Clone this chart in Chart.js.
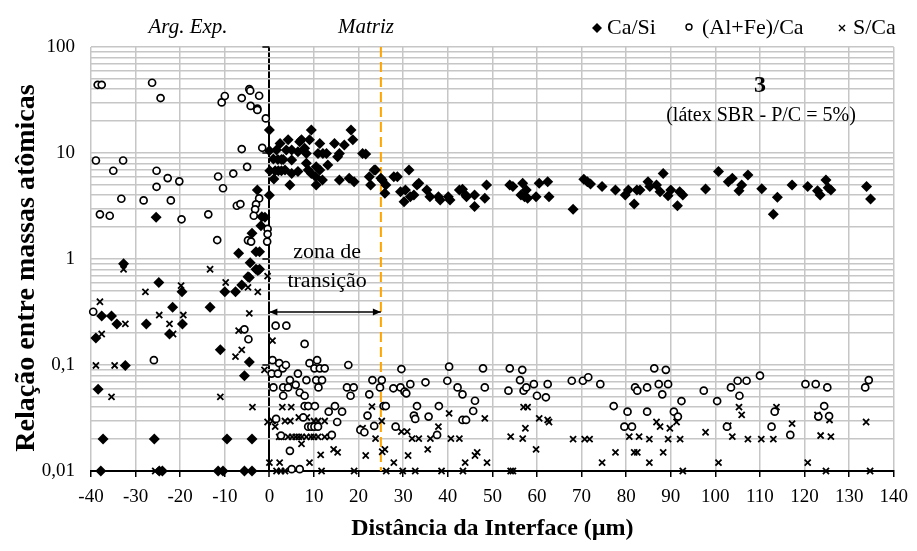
<!DOCTYPE html>
<html>
<head>
<meta charset="utf-8">
<script src="https://cdn.jsdelivr.net/npm/chart.js@4.4.1/dist/chart.umd.min.js"></script>
<style>
  html, body { margin: 0; padding: 0; background: #fff; }
  #wrap { width: 917px; height: 551px; }
</style>
</head>
<body>
<div id="wrap"><canvas id="chart" width="917" height="551"></canvas></div>
<script>
// Ca/Si (filled diamonds)
const caSiX = [-38.9,-38.4,-37.6,-37.3,-37.8,-35.4,-34.2,-32.7,-32.3,-27.6,-25.4,-25.8,-24.8,-24.7,-24.0,-22.4,-21.7,-19.6,-19.5,-13.3,-11.5,-11.0,-10.4,-10.0,-9.5,-7.6,-6.9,-6.2,-5.6,-5.6,-4.8,-4.5,-4.5,-4.3,-3.9,-3.9,-3.9,-3.0,-3.0,-2.7,-2.6,-2.2,-2.2,-1.9,-1.7,-1.0,0.0,0.0,0.0,
  0.1,1.3,0.9,1.0,1.6,2.4,1.9,2.7,3.1,2.0,2.7,3.5,4.2,3.8,5.0,5.0,5.0,4.6,6.4,6.4,6.8,7.2,7.9,8.3,8.3,8.7,9.0,9.4,9.4,10.4,10.5,10.9,11.3,12.0,12.8,10.5,11.3,11.9,13.1,14.6,15.3,15.7,15.7,16.8,17.9,19.0,18.3,18.7,20.9,21.6,22.4,22.7,23.5,23.8,25.0,25.3,26.1,25.9,27.9,28.7,29.4,30.5,30.2,31.3,31.6,32.4,33.1,33.5,35.3,36.0,37.9,38.3,40.1,40.5,42.6,43.3,44.0,44.2,46.0,46.0,48.7,48.3,
  53.9,54.6,56.8,57.6,56.4,57.2,57.9,59.8,60.5,62.4,62.7,68.1,70.5,71.3,72.0,74.6,77.6,79.8,80.5,81.8,82.4,83.1,84.9,85.3,86.8,87.6,88.3,89.4,90.0,91.5,92.0,92.7,97.8,100.7,102.9,103.8,105.3,105.9,107.3,110.4,113.0,113.9,117.2,120.7,122.9,123.5,124.8,125.3,125.9,133.9,134.8];
const caSiY = [0.18,0.059,0.29,0.02,0.01,0.29,0.244,0.9,0.099,0.244,2.47,0.02,0.6,0.01,0.01,0.196,0.35,0.49,0.244,0.35,0.01,0.139,0.01,0.49,0.02,0.49,1.13,0.57,0.079,0.01,0.68,0.67,0.107,0.92,1.75,0.02,0.01,1.17,0.8,4.48,0.78,1.17,0.8,2.06,2.51,2.47,4.0,16.5,10.5,
  6.8,6.8,8.8,5.7,10.7,12.3,8.7,8.7,8.7,6.8,6.8,6.9,13.3,10.7,10.7,8.6,6.4,5.0,6.7,10.3,12.8,13.3,11.1,9.9,8.0,6.9,13.3,16.5,6.4,5.98,5.0,9.9,12.3,9.9,9.9,7.43,6.9,5.56,7.7,12.3,9.2,9.9,5.56,11.9,5.77,5.36,16.5,13.3,9.9,9.8,5.98,5.0,6.9,6.9,5.77,5.56,5.0,4.17,5.98,5.98,4.32,4.48,3.47,6.9,3.87,4.02,5.0,5.18,4.48,3.87,3.87,3.6,3.87,3.6,4.48,4.54,4.02,3.87,4.02,3.12,5.0,3.74,
  5.0,4.84,5.18,4.48,4.02,3.87,3.74,3.87,5.18,5.36,3.87,2.94,5.65,5.36,5.1,4.84,4.48,4.02,4.48,3.3,4.48,4.48,5.36,4.84,5.0,4.32,6.4,3.95,4.48,3.18,4.32,4.02,4.58,6.7,5.36,5.77,4.4,5.0,6.2,4.6,2.64,3.82,5.0,4.84,4.4,4.02,5.56,4.7,4.48,4.84,3.68];

// (Al+Fe)/Ca (open circles)
const alFeCaX = [-38.5,-37.6,-26.3,-24.4,-10.7,-10.0,-6.2,-4.5,-4.3,-2.3,-4.2,-2.7,-2.7,-0.8,-6.2,-1.6,-38.9,-32.8,-35.0,-25.3,-22.8,-20.2,-25.3,-11.5,-10.4,-8.1,-5.0,-33.2,-28.2,-22.1,-38.0,-35.8,-19.7,-13.7,-7.3,-6.5,-2.3,-3.0,-3.2,-3.5,-0.4,-0.4,-0.5,-11.7,-4.8,-4.1,-39.5,-5.6,-4.7,-25.9,
  1.4,3.8,7.9,0.7,2.2,3.0,3.7,0.5,1.9,4.6,6.4,0.9,3.1,4.2,3.1,5.9,6.8,7.9,8.3,9.0,10.7,10.1,11.3,12.4,10.5,11.8,11.0,7.9,8.7,10.2,1.5,7.6,8.7,9.4,10.1,10.9,2.6,4.6,5.0,6.8,13.3,14.7,14.0,15.2,16.3,17.7,17.4,18.9,18.2,20.4,21.3,22.0,22.4,23.1,23.5,24.8,25.2,25.6,26.1,27.8,28.3,29.4,30.3,30.7,29.6,31.6,32.4,32.7,33.1,35.0,35.7,37.6,38.0,39.9,40.3,42.2,43.3,43.3,44.1,45.7,46.1,47.9,48.3,
  53.6,53.9,56.7,56.2,57.0,57.6,59.3,60.0,62.0,62.4,67.8,70.3,71.5,74.2,77.2,79.6,80.3,81.3,82.0,82.5,84.7,84.7,86.3,88.9,87.3,88.1,89.4,90.7,91.6,92.4,97.4,100.4,102.6,103.5,105.0,107.0,105.4,110.0,112.6,113.3,116.8,120.2,122.5,125.1,124.4,123.1,125.5,133.6,134.4];
const alFeCaY = [44,44,46,33,30,34.5,33,40,38.7,34.7,27.8,26.2,25.5,21.2,10.9,11.2,8.5,8.5,6.8,6.8,5.8,5.4,4.8,6.0,4.65,6.4,7.4,3.7,3.57,3.57,2.64,2.56,2.37,2.64,3.18,3.3,3.73,3.28,2.94,2.56,1.92,1.72,1.46,1.51,1.5,1.46,0.318,0.217,0.175,0.111,
  0.235,0.235,0.158,0.111,0.104,0.093,0.1,0.083,0.083,0.072,0.083,0.0615,0.0615,0.0615,0.0513,0.065,0.055,0.0513,0.072,0.104,0.111,0.093,0.093,0.093,0.072,0.072,0.0615,0.041,0.041,0.041,0.031,0.032,0.0262,0.0262,0.0262,0.0262,0.0216,0.0155,0.0104,0.0104,0.0363,0.041,0.0219,0.029,0.0363,0.1,0.0615,0.0615,0.0513,0.0244,0.0232,0.0333,0.0529,0.072,0.0266,0.0615,0.072,0.041,0.041,0.0603,0.0262,0.0615,0.056,0.054,0.0916,0.066,0.0333,0.031,0.041,0.0687,0.0326,0.0219,0.041,0.071,0.0964,0.0615,0.0529,0.0303,0.0303,0.0368,0.046,0.093,0.0615,
  0.0573,0.093,0.09,0.072,0.0573,0.0615,0.066,0.0513,0.0496,0.066,0.071,0.071,0.0766,0.066,0.041,0.0262,0.0363,0.0262,0.0615,0.0573,0.0615,0.0363,0.093,0.09,0.066,0.0529,0.066,0.0363,0.0326,0.0457,0.0573,0.0457,0.0262,0.0615,0.071,0.071,0.0513,0.0793,0.0262,0.0363,0.0219,0.066,0.066,0.0615,0.041,0.0326,0.033,0.0615,0.072];

// S/Ca (crosses)
const sCaX = [-32.7,-13.3,-0.4,-27.8,-19.8,-9.8,-4.8,-2.6,-38.0,-24.7,-19.3,-4.5,-32.3,-22.4,-37.6,-21.6,-6.9,0.7,-6.2,-7.6,-38.9,-34.7,-1.1,-35.4,-11.0,-3.8,-0.4,0.0,-25.6,
  2.9,4.9,6.6,8.4,0.7,1.3,3.5,4.7,2.2,2.7,4.2,5.1,5.9,6.6,7.3,8.3,9.3,7.2,10.0,10.9,12.4,10.0,10.9,12.4,13.5,14.4,15.3,11.5,9.0,2.3,1.6,2.6,3.5,11.7,19.0,26.2,29.9,32.7,38.6,43.4,21.6,20.9,23.0,23.8,25.2,25.3,25.9,27.9,29.6,30.9,31.1,32.0,33.5,32.5,35.5,36.1,37.9,40.3,40.7,42.6,43.9,46.1,46.6,48.3,48.8,
  54.1,54.1,54.6,56.8,57.0,57.9,57.4,59.8,60.5,62.4,62.7,68.1,70.7,71.8,74.6,77.6,80.7,82.9,81.8,82.5,85.2,85.2,86.8,87.6,88.3,89.4,89.8,91.3,92.1,92.7,97.8,100.7,102.9,103.8,105.3,105.9,107.3,110.3,113.0,113.7,117.2,120.7,122.9,123.6,125.9,125.6,124.8,133.8,134.7];
const sCaY = [0.8,0.8,0.69,0.49,0.56,0.6,0.54,0.49,0.395,0.296,0.296,0.307,0.244,0.244,0.196,0.196,0.211,0.17,0.139,0.12,0.099,0.099,0.09,0.05,0.05,0.04,0.029,0.012,0.01,
  0.04,0.04,0.032,0.032,0.0296,0.0262,0.0296,0.0296,0.021,0.021,0.021,0.021,0.021,0.021,0.021,0.021,0.021,0.018,0.0296,0.0296,0.0296,0.021,0.021,0.021,0.021,0.016,0.015,0.0142,0.012,0.012,0.01,0.01,0.01,0.01,0.01,0.01,0.01,0.01,0.01,0.01,0.014,0.0253,0.0405,0.0202,0.0296,0.0152,0.016,0.012,0.0235,0.0235,0.014,0.0202,0.0202,0.0333,0.016,0.0202,0.0262,0.035,0.0202,0.0202,0.012,0.014,0.015,0.0314,0.012,
  0.0211,0.01,0.01,0.0202,0.04,0.04,0.0253,0.016,0.0314,0.0303,0.029,0.02,0.02,0.02,0.012,0.015,0.0211,0.0211,0.015,0.015,0.02,0.012,0.029,0.0262,0.015,0.02,0.0253,0.029,0.02,0.01,0.0232,0.012,0.0268,0.0211,0.04,0.0338,0.02,0.02,0.02,0.04,0.028,0.012,0.0338,0.0216,0.0211,0.0303,0.01,0.029,0.01];

const xTicks = [-40,-30,-20,-10,0,10,20,30,40,50,60,70,80,90,100,110,120,130,140];
const yDecades = [0.01, 0.1, 1, 10, 100];
const yTickLabels = ["0,01", "0,1", "1", "10", "100"];

const transitionEnd = 25;
const arrowLevel = 0.316;

const toPoints = (xs, ys) => xs.map((x, i) => ({ x: x, y: ys[i] }));
const SERIF = "'Liberation Serif', 'Times New Roman', serif";

// y grid at every 1..9 x 10^n
const yGridTicks = [];
yDecades.forEach((d, i) => {
  if (i === yDecades.length - 1) { yGridTicks.push(d); return; }
  for (let m = 1; m <= 9; m++) yGridTicks.push(+(m * d).toPrecision(3));
});
const isDecade = v => yDecades.some(d => Math.abs(d - v) / d < 1e-6);

const extras = {
  id: "extras",
  beforeDatasetsDraw(chart) {
    const { ctx, chartArea, scales } = chart;
    const x = scales.x, y = scales.y;
    ctx.save();
    // orange dashed boundary
    ctx.strokeStyle = "#ffa500";
    ctx.lineWidth = 2;
    ctx.setLineDash([10, 5]);
    ctx.beginPath();
    ctx.moveTo(x.getPixelForValue(transitionEnd), chartArea.top);
    ctx.lineTo(x.getPixelForValue(transitionEnd), chartArea.bottom);
    ctx.stroke();
    ctx.setLineDash([]);
    // decade ticks on the x=0 axis
    ctx.strokeStyle = "#000";
    ctx.lineWidth = 1.5;
    const x0 = x.getPixelForValue(0);
    yDecades.forEach(d => {
      const py = y.getPixelForValue(d);
      ctx.beginPath();
      ctx.moveTo(x0 - 7, py);
      ctx.lineTo(x0, py);
      ctx.stroke();
    });
    // double arrow for transition zone
    const ay = y.getPixelForValue(arrowLevel);
    const ax1 = x.getPixelForValue(0), ax2 = x.getPixelForValue(transitionEnd);
    ctx.beginPath();
    ctx.moveTo(ax1, ay); ctx.lineTo(ax2, ay); ctx.stroke();
    ctx.fillStyle = "#000";
    ctx.beginPath();
    ctx.moveTo(ax1, ay); ctx.lineTo(ax1 + 8, ay - 3.5); ctx.lineTo(ax1 + 8, ay + 3.5); ctx.closePath(); ctx.fill();
    ctx.beginPath();
    ctx.moveTo(ax2, ay); ctx.lineTo(ax2 - 8, ay - 3.5); ctx.lineTo(ax2 - 8, ay + 3.5); ctx.closePath(); ctx.fill();
    ctx.restore();
  },
  afterDraw(chart) {
    const { ctx, scales } = chart;
    const x = scales.x;
    ctx.save();
    ctx.fillStyle = "#000";
    ctx.textBaseline = "middle";
    ctx.textAlign = "center";
    // y axis title
    ctx.save();
    ctx.translate(27, 268);
    ctx.rotate(-Math.PI / 2);
    ctx.font = "bold 28px " + SERIF;
    ctx.fillText("Relação entre massas atômicas", 0, 0);
    ctx.restore();
    ctx.font = "italic 21px " + SERIF;
    ctx.fillText("Arg. Exp.", 188, 27);
    ctx.fillText("Matriz", 366, 27);
    ctx.font = "22px " + SERIF;
    const zx = x.getPixelForValue(transitionEnd / 2) + 2;
    ctx.fillText("zona de", zx, 252);
    ctx.fillText("transição", zx, 281);
    ctx.font = "bold 24px " + SERIF;
    ctx.fillText("3", 760, 86);
    ctx.font = "20px " + SERIF;
    ctx.fillText("(látex SBR - P/C = 5%)", 761, 116);
    // legend
    ctx.textAlign = "left";
    ctx.font = "22px " + SERIF;
    const ly = 28;
    ctx.beginPath();
    ctx.moveTo(597, ly - 5); ctx.lineTo(602, ly); ctx.lineTo(597, ly + 5); ctx.lineTo(592, ly); ctx.closePath(); ctx.fill();
    ctx.fillText("Ca/Si", 607, ly);
    ctx.lineWidth = 1.4; ctx.strokeStyle = "#000";
    ctx.beginPath(); ctx.arc(689, ly - 1, 3, 0, Math.PI * 2); ctx.stroke();
    ctx.fillText("(Al+Fe)/Ca", 702, ly);
    ctx.beginPath();
    ctx.moveTo(839, ly - 3); ctx.lineTo(845, ly + 3); ctx.moveTo(845, ly - 3); ctx.lineTo(839, ly + 3); ctx.stroke();
    ctx.fillText("S/Ca", 853, ly);
    ctx.restore();
  }
};

new Chart(document.getElementById("chart").getContext("2d"), {
  type: "scatter",
  data: {
    datasets: [
      {
        label: "Ca/Si",
        data: toPoints(caSiX, caSiY),
        pointStyle: "rectRot",
        pointRadius: 5.5,
        backgroundColor: "#000",
        borderColor: "#000",
        borderWidth: 0,
        clip: false
      },
      {
        label: "(Al+Fe)/Ca",
        data: toPoints(alFeCaX, alFeCaY),
        pointStyle: "circle",
        pointRadius: 3.5,
        backgroundColor: "#fff",
        borderColor: "#000",
        borderWidth: 1.7,
        clip: false
      },
      {
        label: "S/Ca",
        data: toPoints(sCaX, sCaY),
        pointStyle: "crossRot",
        pointRadius: 4.3,
        borderColor: "#000",
        borderWidth: 1.8,
        clip: false
      }
    ]
  },
  options: {
    responsive: false,
    animation: false,
    devicePixelRatio: 1,
    layout: { padding: { top: 47, right: 16, left: 0, bottom: 0 } },
    plugins: { legend: { display: false }, tooltip: { enabled: false } },
    scales: {
      x: {
        type: "linear",
        min: -40,
        max: 140,
        afterBuildTicks: s => { s.ticks = xTicks.map(v => ({ value: v })); },
        afterFit: s => { s.height = 80; },
        grid: {
          color: c => (c.tick && c.tick.value === 0 ? "#000" : "#c6c6c6"),
          lineWidth: c => (c.tick && c.tick.value === 0 ? 2 : 1.5),
          tickColor: "#000",
          tickLength: 6,
          tickWidth: 1.5
        },
        border: { color: "#000", width: 2 },
        ticks: { color: "#000", font: { family: SERIF, size: 19 }, padding: 9 },
        title: {
          display: true,
          text: "Distância da Interface (µm)",
          color: "#000",
          font: { family: SERIF, size: 24, weight: "bold" },
          padding: { top: 0, bottom: 8 }
        }
      },
      y: {
        type: "logarithmic",
        min: 0.01,
        max: 100,
        afterBuildTicks: s => { s.ticks = yGridTicks.map(v => ({ value: v, major: isDecade(v) })); },
        afterFit: s => { s.width = 91; },
        grid: { color: "#c6c6c6", lineWidth: 1.5, drawTicks: false },
        border: { display: false },
        ticks: {
          color: "#000",
          autoSkip: false,
          font: { family: SERIF, size: 19 },
          padding: 16,
          callback: v => {
            const i = yDecades.findIndex(d => Math.abs(d - v) / d < 1e-6);
            return i >= 0 ? yTickLabels[i] : "";
          }
        }
      }
    }
  },
  plugins: [extras]
});
</script>
</body>
</html>
